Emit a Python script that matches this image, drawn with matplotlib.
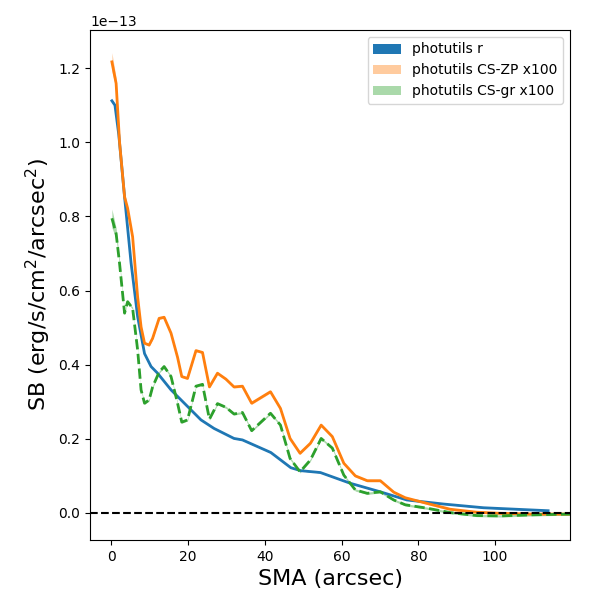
import numpy as np
import matplotlib
matplotlib.use("Agg")
import matplotlib.pyplot as plt

# surface brightness profiles (units of 1e-13)
sma_r = [0.2, 1.0, 2.0, 3.5, 5.2, 6.9, 8.7, 10.4, 12.1, 15.6, 20.8, 23.4, 26.8,
         32.0, 34.2, 41.6, 46.8, 49.4, 54.5, 62.3, 70.1, 77.0, 86.6, 97.0, 113.8]
sb_r = [1.112, 1.10, 1.02, 0.853, 0.674, 0.53, 0.43, 0.395, 0.377, 0.332, 0.278,
        0.251, 0.228, 0.201, 0.197, 0.163, 0.122, 0.114, 0.109, 0.080, 0.057,
        0.035, 0.024, 0.014, 0.006]

sma_cs = [0.2, 1.3, 2.2, 3.5, 4.3, 5.6, 6.9, 7.8, 8.7, 9.9, 10.8, 12.5, 13.8, 15.6,
          17.3, 18.4, 19.9, 22.1, 23.8, 25.6, 27.7, 29.9, 32.0, 34.2, 36.6, 41.5,
          44.1, 46.6, 49.2, 51.9, 54.7, 57.6, 60.6, 63.6, 66.7, 70.1, 73.6, 76.6,
          82.2, 88.3, 95.2, 101.3, 110.0, 119.5]
sb_zp = [1.217, 1.159, 1.00, 0.853, 0.822, 0.745, 0.583, 0.502, 0.458, 0.453,
         0.471, 0.525, 0.528, 0.485, 0.42, 0.368, 0.363, 0.438, 0.433, 0.340,
         0.377, 0.361, 0.340, 0.342, 0.296, 0.327, 0.282, 0.201, 0.161, 0.188,
         0.237, 0.206, 0.134, 0.100, 0.087, 0.087, 0.056, 0.041, 0.026, 0.010,
         0.002, -0.001, -0.003, -0.003]
sb_gr = [0.795, 0.754, 0.673, 0.539, 0.570, 0.552, 0.440, 0.332, 0.296, 0.305,
         0.340, 0.380, 0.395, 0.368, 0.296, 0.245, 0.251, 0.342, 0.347, 0.253,
         0.295, 0.285, 0.267, 0.271, 0.222, 0.269, 0.237, 0.147, 0.111, 0.143,
         0.201, 0.175, 0.102, 0.062, 0.053, 0.057, 0.035, 0.022, 0.013, 0.001,
         -0.007, -0.008, -0.005, -0.003]
# errors, larger at the centre
err_r = [0.004, 0.003] + [0.001] * 23
err_cs = [0.025, 0.015, 0.008] + [0.003] * 41

scale = 1e-13
sma_r = np.array(sma_r)
sma_cs = np.array(sma_cs)
sb_r = np.array(sb_r) * scale
sb_zp = np.array(sb_zp) * scale
sb_gr = np.array(sb_gr) * scale
err_r = np.array(err_r) * scale
err_cs = np.array(err_cs) * scale

fig, ax = plt.subplots(figsize=(6, 6), dpi=100)
fig.subplots_adjust(left=0.15, right=0.95, top=0.95, bottom=0.10)

ax.fill_between(sma_r, sb_r - err_r, sb_r + err_r, color='C0', label='photutils r', lw=0)
ax.fill_between(sma_cs, sb_zp - err_cs, sb_zp + err_cs, color='C1', alpha=0.4,
                label='photutils CS-ZP x100', lw=0)
ax.fill_between(sma_cs, sb_gr - err_cs, sb_gr + err_cs, color='C2', alpha=0.4,
                label='photutils CS-gr x100', lw=0)

ax.plot(sma_r, sb_r, color='C0', lw=2)
ax.plot(sma_cs, sb_zp, color='C1', lw=2)
ax.plot(sma_cs, sb_gr, color='C2', lw=2, ls='--')

ax.axhline(0, color='black', ls='--', lw=1.5)

ax.set_xlim(-5.5, 119.5)
ax.set_ylim(-0.073e-13, 1.303e-13)
ax.set_xlabel('SMA (arcsec)', fontsize=16)
ax.set_ylabel('SB (erg/s/cm$^2$/arcsec$^2$)', fontsize=16)
ax.legend(loc='upper right')

fig.savefig('out.png')
